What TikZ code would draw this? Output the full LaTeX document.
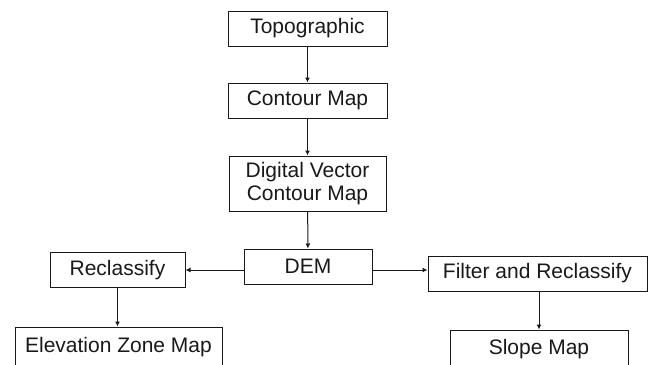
\documentclass[tikz,border=0pt]{standalone}
\usepackage{fontspec}
\setmainfont{Liberation Sans}
\usetikzlibrary{arrows.meta}
\begin{document}
\begin{tikzpicture}[x=1pt,y=-1pt,
  box/.style={draw=black!90, line width=1pt, inner sep=0pt, align=center,
    font=\fontsize{21}{23}\selectfont, text=black!90},
  arr/.style={draw=black!90, line width=1pt, -{Latex[length=5pt,width=5pt]}}]
\useasboundingbox (0,0) rectangle (650,364);
\node[box, minimum width=159pt, minimum height=35pt] (Topo) at (307.5,28.5) {Topographic};
\node[box, minimum width=159pt, minimum height=35pt] (Cont) at (307.5,100.5) {Contour Map};
\node[box, minimum width=157pt, minimum height=55pt] (Dig) at (307.5,183.5) {Digital Vector\\Contour Map};
\node[box, minimum width=128pt, minimum height=35pt] (DEM) at (308,266.5) {DEM};
\node[box, minimum width=135pt, minimum height=35pt] (Recl) at (117.5,270) {Reclassify};
\node[box, minimum width=219pt, minimum height=35pt] (Filt) at (537.5,273.5) {Filter and Reclassify};
\node[box, minimum width=207pt, minimum height=40pt] (Elev) at (118.5,347) {Elevation Zone Map};
\node[box, minimum width=178pt, minimum height=38pt] (Slope) at (539,349) {Slope Map};
\draw[arr] (Topo) -- (Cont);
\draw[arr] (Cont) -- (Dig);
\draw[arr] (Dig) -- (DEM);
\draw[arr] (DEM.west |- Recl.east) -- (Recl.east);
\draw[arr] (DEM.east |- Recl.east) -- (Filt.west |- Recl.east);
\draw[arr] (Recl.south) -- (Recl.south |- Elev.north);
\draw[arr] (Slope.north |- Filt.south) -- (Slope.north);
\end{tikzpicture}
\end{document}
